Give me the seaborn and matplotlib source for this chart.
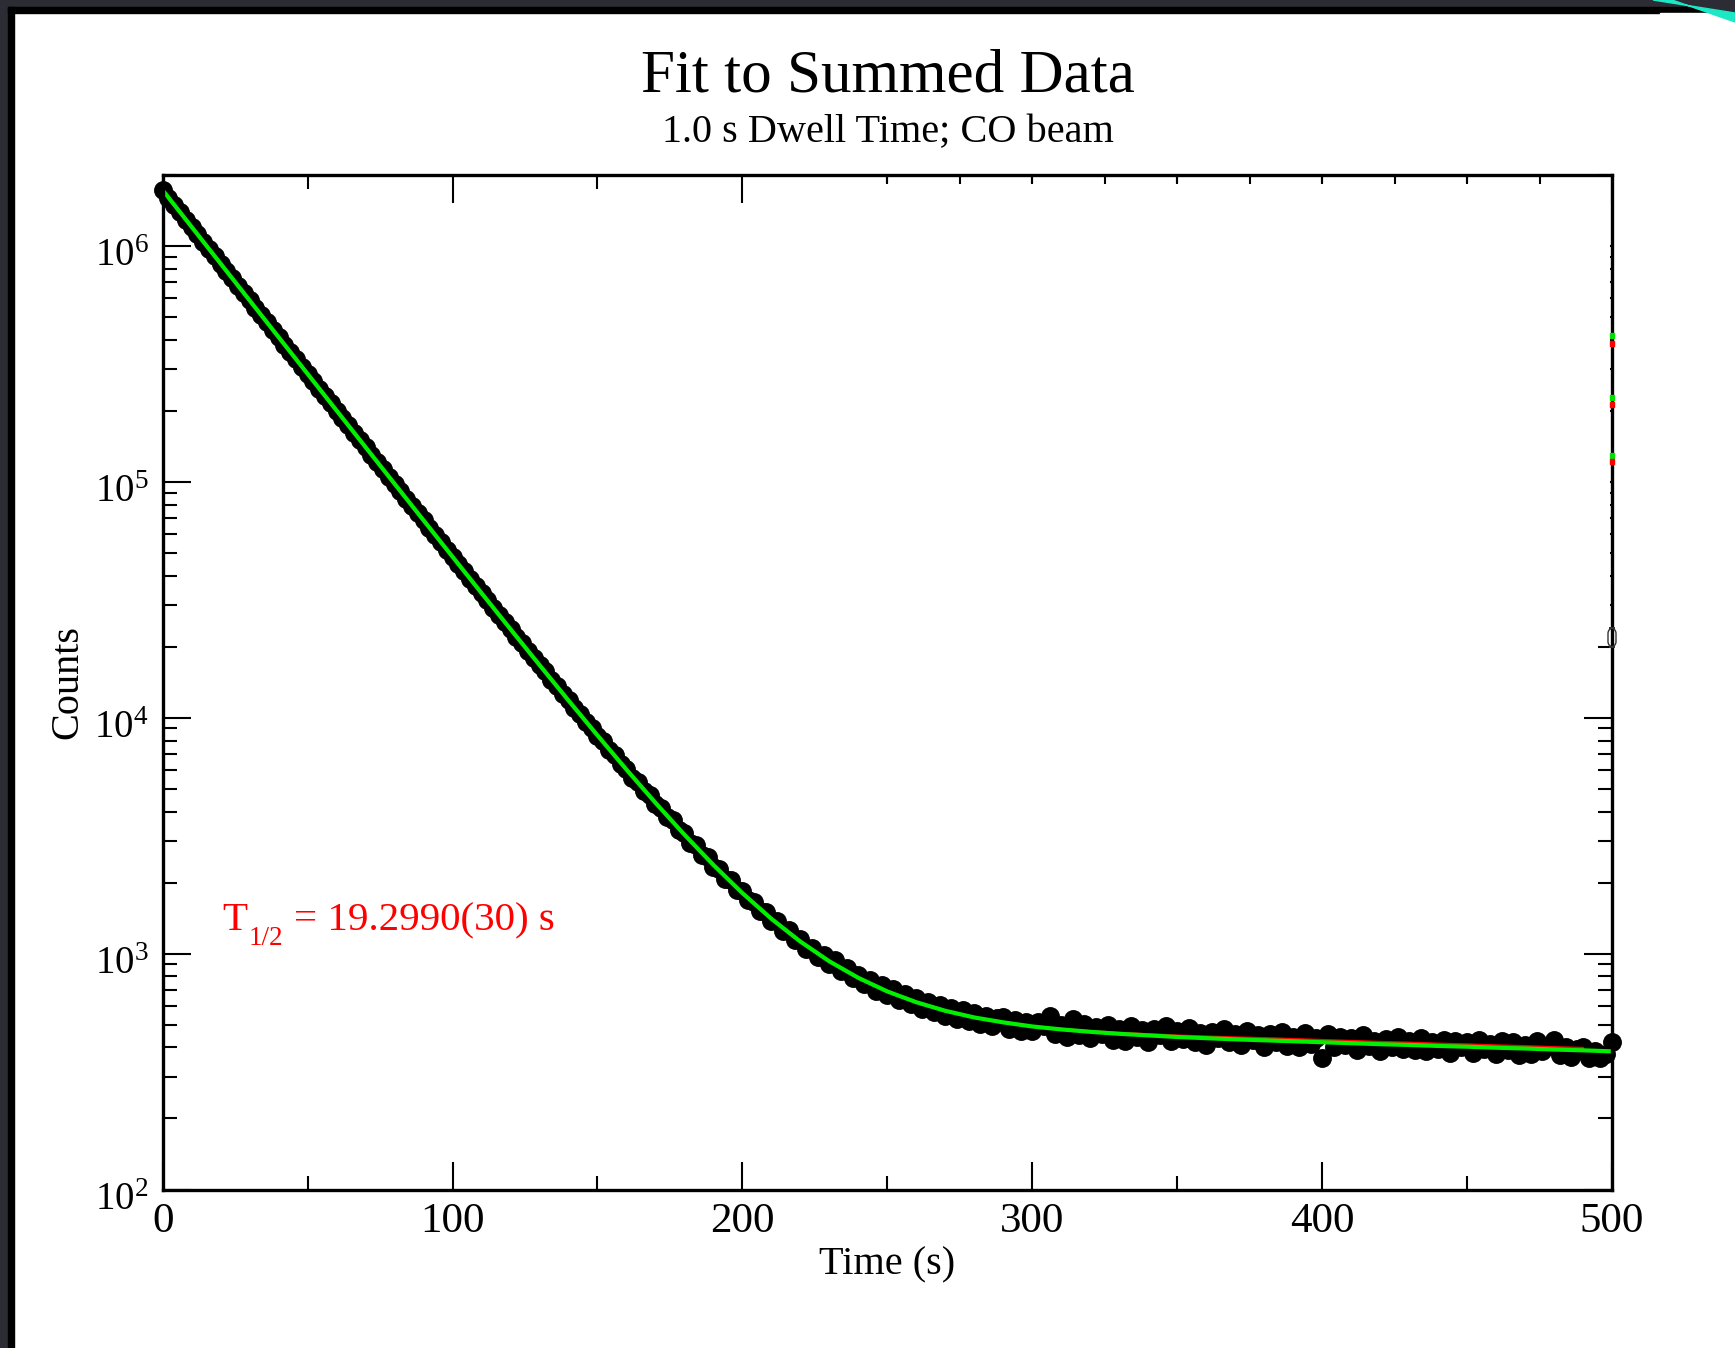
import numpy as np
import pandas as pd
import matplotlib
matplotlib.use("Agg")
import matplotlib.pyplot as plt
import matplotlib.transforms as mtransforms
from matplotlib.patches import Rectangle, Polygon, FancyBboxPatch
from matplotlib.ticker import LogLocator, MultipleLocator, NullFormatter
import seaborn as sns

# ---------------- data ----------------
# summed counts, sampled every 2 s (1.0 s dwell)
data_time = np.arange(0, 501, 2)
data_counts = [
    1721800, 1600300, 1491200, 1386100, 1290900,
    1201900, 1118600, 1041500, 968900, 902300,
    839800, 781400, 727600, 676900, 630400,
    586600, 546200, 508100, 473200, 440300,
    409700, 381600, 355100, 330500, 307800,
    286500, 266500, 248300, 231000, 215200,
    200300, 186300, 173600, 161500, 150300,
    140000, 130400, 121300, 113000, 105200,
    97900, 91300, 84900, 79100, 73500,
    68700, 63700, 59500, 55400, 51500,
    48100, 44700, 41800, 38800, 36200,
    33600, 31400, 29300, 27200, 25400,
    23750, 22050, 20700, 19150, 17950,
    16650, 15700, 14480, 13650, 12580,
    11900, 10950, 10380, 9560, 9080,
    8350, 7930, 7290, 6950, 6380,
    6080, 5570, 5350, 4880, 4700,
    4290, 4160, 3780, 3680, 3340,
    3240, 2950, 2880, 2610, 2560,
    2330, 2290, 2080, 2050, 1860,
    1840, 1680, 1660, 1510, 1500,
    1380, 1370, 1250, 1260, 1140,
    1150, 1050, 1060, 970, 985,
    900, 940, 845, 870, 785,
    815, 745, 775, 695, 735,
    665, 710, 635, 675, 610,
    650, 585, 625, 565, 605,
    545, 590, 530, 575, 520,
    560, 505, 545, 495, 535,
    540, 480, 525, 470, 515,
    470, 515, 495, 545, 455,
    500, 445, 530, 450, 505,
    440, 490, 455, 500, 430,
    480, 425, 495, 445, 475,
    420, 480, 450, 495, 425,
    470, 435, 485, 420, 460,
    410, 465, 440, 480, 420,
    455, 410, 470, 430, 450,
    400, 455, 420, 465, 405,
    445, 400, 460, 415, 440,
    360, 455, 400, 445, 410,
    440, 390, 450, 405, 425,
    385, 435, 400, 445, 395,
    425, 390, 440, 385, 420,
    395, 430, 380, 425, 400,
    420, 380, 430, 395, 415,
    375, 425, 390, 420, 370,
    410, 375, 425, 385, 405,
    430, 370, 400, 365, 395,
    400, 360, 385, 360, 375,
    420,
]

# fitted curves
fit_time = np.arange(0, 501, 10)
fit_green = [
    1720560, 1202000, 839700, 586660, 409930, 286480, 200260, 140040, 97970, 68585,
    48060, 33723, 23708, 16712, 11824, 8410, 6023, 4356, 3190, 2375,
    1804, 1404, 1124, 927, 789, 691, 622, 572, 536, 511,
    491, 477, 466, 457, 450, 443, 438, 433, 429, 425,
    421, 417, 413, 410, 406, 403, 399, 396, 392, 389, 385,
]
fit2_time = np.arange(0, 491, 10)
fit_red = [
    1720560, 1202000, 839700, 586660, 409930, 286480, 200260, 140040, 97970, 68585,
    48060, 33723, 23708, 16712, 11824, 8410, 6023, 4356, 3190, 2375,
    1804, 1404, 1124, 927, 789, 691, 622, 572, 536, 511,
    491, 478, 468, 460, 454, 448, 444, 440, 437, 433,
    429, 425, 421, 418, 414, 411, 407, 404, 400, 397,
]

# ticks of the hidden inset frame along the top edge (s)
inset_top_ticks = [250, 275, 300, 325, 350, 375, 400, 425, 450, 475]

title = "Fit to Summed Data"
subtitle = "1.0 s Dwell Time; CO beam"
xlabel = "Time (s)"
ylabel = "Counts"
ann_main, ann_sub, ann_rest = "T", "1/2", "= 19.2990(30) s"

# ---------------- style ----------------
sns.set_style("ticks")
plt.rcParams["font.family"] = ["Liberation Serif", "DejaVu Serif"]
plt.rcParams["mathtext.fontset"] = "custom"
plt.rcParams["mathtext.rm"] = "Liberation Serif"
plt.rcParams["mathtext.it"] = "Liberation Serif:italic"
plt.rcParams["mathtext.bf"] = "Liberation Serif:bold"
for key in ["text.color", "axes.labelcolor", "xtick.color", "ytick.color", "axes.edgecolor"]:
    plt.rcParams[key] = "black"

W, H = 1735, 1348
fig = plt.figure(figsize=(W / 100, H / 100), dpi=100, facecolor="white")


def fx(px):
    return px / W


def fy(py):
    return 1 - py / H


AX_L, AX_R, AX_T, AX_B = 162.7, 1612.0, 174.8, 1189.5
ax = fig.add_axes([fx(AX_L), fy(AX_B), fx(AX_R) - fx(AX_L), fy(AX_T) - fy(AX_B)])


def axx(px):
    return (px - AX_L) / (AX_R - AX_L)


def axy(py):
    return (AX_B - py) / (AX_B - AX_T)


df_data = pd.DataFrame({"time": data_time, "counts": data_counts})
df_fit = pd.DataFrame({"time": fit_time, "counts": fit_green})
df_fit2 = pd.DataFrame({"time": fit2_time, "counts": fit_red})

sns.scatterplot(data=df_data, x="time", y="counts", ax=ax, color="black",
                s=185, linewidth=0, clip_on=False, zorder=3, legend=False)
sns.lineplot(data=df_fit2, x="time", y="counts", ax=ax, color="#ff0000",
             linewidth=2.0, zorder=4, errorbar=None, legend=False)
sns.lineplot(data=df_fit, x="time", y="counts", ax=ax, color="#00f000",
             linewidth=3.0, zorder=5, errorbar=None, legend=False)

ax.set_yscale("log")
ax.set_xlim(0, 500)
ax.set_ylim(100, 2.0e6)

ax.xaxis.set_major_locator(MultipleLocator(100))
ax.xaxis.set_minor_locator(MultipleLocator(50))
ax.yaxis.set_major_locator(LogLocator(base=10, numticks=10))
ax.yaxis.set_minor_locator(LogLocator(base=10, subs=np.arange(2, 10), numticks=20))
ax.yaxis.set_minor_formatter(NullFormatter())

ax.tick_params(which="both", direction="in", top=True, right=True, colors="black")
ax.tick_params(which="major", length=20, width=1.5)
ax.tick_params(which="minor", length=10, width=1.5)
ax.tick_params(axis="x", which="major", labelsize=31, pad=9)
ax.tick_params(axis="y", which="major", labelsize=28, pad=10)

for sp in ax.spines.values():
    sp.set_linewidth(2.4)
    sp.set_color("black")
    sp.set_zorder(6)

ax.set_xlabel(xlabel, fontsize=29, labelpad=4)
ax.set_ylabel(ylabel, fontsize=29, labelpad=6)
ax.set_facecolor("white")

# half-life annotation (T with a lowered 1/2 subscript)
fig.text(fx(222.0), fy(930), ann_main, color="#ff0000", fontsize=29.5, ha="left", va="baseline")
fig.text(fx(248.5), fy(945), ann_sub, color="#ff0000", fontsize=19.5, ha="left", va="baseline")
fig.text(fx(293.5), fy(930), ann_rest, color="#ff0000", fontsize=29.5, ha="left", va="baseline")

# hidden inset/legend frame in the upper right: white box over the axis ticks
ax.add_artist(Rectangle((axx(870), axy(637)), axx(1610) - axx(870), axy(183) - axy(637),
                        transform=ax.transAxes, facecolor="white", edgecolor="none",
                        zorder=5.5, clip_on=False))
ax.add_artist(Rectangle((axx(1578), axy(637)), axx(1610) - axx(1578), axy(176) - axy(637),
                        transform=ax.transAxes, facecolor="white", edgecolor="none",
                        zorder=5.5, clip_on=False))
for t in inset_top_ticks:
    ax.plot([t, t], [axy(176), axy(184)], transform=ax.get_xaxis_transform(),
            color="black", lw=1.5, zorder=5.6, clip_on=False, solid_capstyle="butt")
# remnants of the legend samples on the right edge
for y0, col in [(333, "#00e000"), (341, "#ff0000"), (395, "#00e000"), (402, "#ff0000"),
                (453, "#00e000"), (459, "#ff0000")]:
    fig.add_artist(Rectangle((fx(1610), fy(y0 + 5)), fx(4), fy(y0) - fy(y0 + 5),
                             transform=fig.transFigure, color=col, zorder=7))
fig.add_artist(FancyBboxPatch((fx(1608), fy(647)), fx(8), fy(628) - fy(647),
                              boxstyle="round,pad=0,rounding_size=0.004",
                              transform=fig.transFigure, facecolor="none",
                              edgecolor="#333333", lw=1.0, zorder=5.8))

fig.text(fx(888), fy(91), title, ha="center", va="baseline", fontsize=44)
fig.text(fx(888), fy(142), subtitle, ha="center", va="baseline", fontsize=29)

# shift y tick labels slightly down, centred
ydown = mtransforms.ScaledTranslation(0, -11 / 100, fig.dpi_scale_trans)
for tk in ax.yaxis.get_major_ticks():
    tk.label1.set_verticalalignment("center")
    tk.label1.set_transform(tk.label1.get_transform() + ydown)

# ---------------- screenshot frame ----------------
dark = "#2c2c34"
fig.add_artist(Rectangle((0, 0), fx(8), 1, transform=fig.transFigure, color=dark, zorder=0))
fig.add_artist(Rectangle((0, fy(7)), 1, 1 - fy(7), transform=fig.transFigure, color=dark, zorder=0))
fig.add_artist(Rectangle((fx(8), 0), fx(6), fy(7), transform=fig.transFigure, color="black", zorder=1))
fig.add_artist(Rectangle((fx(8), fy(13)), 1, fy(7) - fy(13), transform=fig.transFigure,
                         color="black", zorder=1))
fig.add_artist(Polygon([(fx(1660), fy(13)), (fx(1735), fy(13)), (fx(1735), fy(30)), (fx(1660), fy(30))],
                       closed=True, transform=fig.transFigure, color="white", zorder=1.5))
fig.add_artist(Polygon([(fx(1653), fy(0)), (fx(1672), fy(0)), (fx(1735), fy(22)), (fx(1735), fy(13))],
                       closed=True, transform=fig.transFigure, color="#1ce8c6", zorder=2))
fig.add_artist(Polygon([(fx(1672), fy(0)), (fx(1735), fy(0)), (fx(1735), fy(13))],
                       closed=True, transform=fig.transFigure, color=dark, zorder=1.8))

fig.savefig("out.png", dpi=100, facecolor="white")
